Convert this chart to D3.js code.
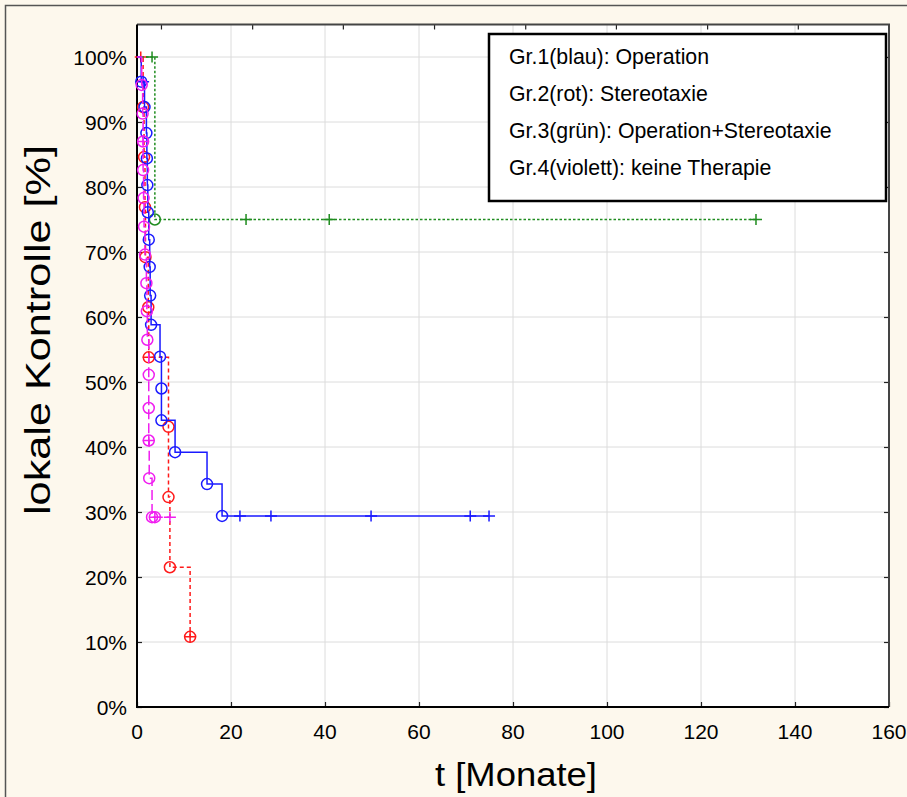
<!DOCTYPE html>
<html>
<head>
<meta charset="utf-8">
<script src="https://cdn.jsdelivr.net/npm/d3@7"></script>
<style>
  body { margin: 0; background: #fdf8ed; }
  svg { display: block; font-family: "Liberation Sans", Arial, sans-serif; }
</style>
</head>
<body>
<svg id="chart" width="907" height="797"></svg>
<script>
// KM curves: time [months], survival [%], mark ('o' event, '+' censored, 'x' both)
const blueTime = [0.9, 1.3, 1.6, 2.0, 2.1, 2.2, 2.3, 2.5, 2.7, 2.8, 3.0, 4.9, 5.2, 5.2, 8.1, 14.9, 18.1, 21.9, 28.5, 49.8, 70.9, 74.9];
const blueSurv = [96.2, 96.2, 92.3, 88.3, 84.4, 80.3, 76.1, 71.9, 67.7, 63.3, 58.8, 53.9, 49.0, 44.1, 39.2, 34.3, 29.4, 29.4, 29.4, 29.4, 29.4, 29.4];
const blueMark = ['o', '+', 'o', 'o', 'o', 'o', 'o', 'o', 'o', 'o', 'o', 'o', 'o', 'o', 'o', 'o', 'o', '+', '+', '+', '+', '+'];

const redTime = [0.8, 1.3, 1.5, 1.7, 1.8, 2.4, 2.5, 6.7, 6.7, 7.0, 11.3];
const redSurv = [100, 92.3, 84.6, 76.9, 69.2, 61.5, 53.8, 43.1, 32.3, 21.5, 10.8];
const redMark = ['+', 'o', 'o', 'o', 'o', 'o', 'x', 'o', 'o', 'o', 'x'];

const greenTime = [3.2, 3.8, 23.2, 40.9, 131.7];
const greenSurv = [100, 75, 75, 75, 75];
const greenMark = ['+', 'o', '+', '+', '+'];

const violetTime = [1.0, 1.2, 1.3, 1.3, 1.4, 1.5, 1.7, 2.0, 2.1, 2.2, 2.5, 2.5, 2.5, 2.6, 3.2, 3.8, 7.0];
const violetSurv = [95.7, 91.3, 87.0, 82.6, 78.3, 73.9, 69.6, 65.2, 60.9, 56.5, 51.1, 46.0, 41.0, 35.2, 29.2, 29.2, 29.2];
const violetMark = ['o', 'o', 'x', 'o', 'o', 'o', 'o', 'o', 'o', 'o', 'o', 'o', 'x', 'o', 'o', 'x', '+'];

const xTicks = [0, 20, 40, 60, 80, 100, 120, 140, 160];
const yTicks = [0, 10, 20, 30, 40, 50, 60, 70, 80, 90, 100];
const topTicks = [5.1, 24.5, 43.8, 63.2, 82.6, 101.9, 121.3, 140.6];
const legendLabels = [
  'Gr.1(blau): Operation',
  'Gr.2(rot): Stereotaxie',
  'Gr.3(grün): Operation+Stereotaxie',
  'Gr.4(violett): keine Therapie'
];

const series = [
  { time: redTime, surv: redSurv, mark: redMark, color: '#ff1a1a', dash: '4,3' },
  { time: greenTime, surv: greenSurv, mark: greenMark, color: '#1f8c1f', dash: '2.5,2' },
  { time: blueTime, surv: blueSurv, mark: blueMark, color: '#1a1aff', dash: null },
  { time: violetTime, surv: violetSurv, mark: violetMark, color: '#f01ef0', dash: '10,4' }
];

function buildChart() {
  const svg = d3.select('#chart');
  const pLeft = 137, pRight = 889, pTop = 24.5, pBottom = 707;

  const x = d3.scaleLinear().domain([0, 160]).range([pLeft, pRight]);
  const y = d3.scaleLinear().domain([0, 105]).range([pBottom, pTop]);

  // outer frame
  svg.append('rect')
    .attr('x', 5.5).attr('y', 5.5)
    .attr('width', 920).attr('height', 820)
    .attr('fill', '#fdf8ed')
    .attr('stroke', '#555')
    .attr('stroke-width', 1.5);

  svg.append('rect')
    .attr('x', pLeft).attr('y', pTop)
    .attr('width', pRight - pLeft).attr('height', pBottom - pTop)
    .attr('fill', '#fff');

  // grid
  const grid = svg.append('g').attr('stroke', '#dcdcdc').attr('stroke-width', 1);
  grid.selectAll('.gx')
    .data(xTicks.slice(1, -1))
    .join('line')
    .attr('class', 'gx')
    .attr('x1', d => x(d)).attr('x2', d => x(d))
    .attr('y1', pTop).attr('y2', pBottom);
  grid.selectAll('.gy')
    .data(yTicks.slice(1))
    .join('line')
    .attr('class', 'gy')
    .attr('x1', pLeft).attr('x2', pRight)
    .attr('y1', d => y(d)).attr('y2', d => y(d));

  // axes with inward ticks
  const fontSize = 21;
  const axisL = svg.append('g')
    .attr('transform', `translate(${pLeft},0)`)
    .call(d3.axisRight(y).tickValues(yTicks).tickSize(5).tickFormat(''));
  const axisB = svg.append('g')
    .attr('transform', `translate(0,${pBottom})`)
    .call(d3.axisTop(x).tickValues(xTicks).tickSize(5).tickFormat(''));
  const axisR = svg.append('g')
    .attr('transform', `translate(${pRight},0)`)
    .call(d3.axisLeft(y).tickValues(yTicks).tickSize(5).tickFormat(''));
  const axisT = svg.append('g')
    .attr('transform', `translate(0,${pTop})`)
    .call(d3.axisBottom(x).tickValues(topTicks).tickSize(5).tickFormat(''));
  [axisL, axisB, axisR, axisT].forEach(a => {
    a.select('.domain').remove();
    a.selectAll('line').attr('stroke', '#222').attr('stroke-width', 1.2);
  });

  svg.append('g')
    .selectAll('text')
    .data(yTicks)
    .join('text')
    .attr('x', pLeft - 10)
    .attr('y', d => y(d))
    .attr('dy', '0.36em')
    .attr('text-anchor', 'end')
    .attr('font-size', fontSize)
    .text(d => d + '%');

  svg.append('g')
    .selectAll('text')
    .data(xTicks)
    .join('text')
    .attr('x', d => x(d))
    .attr('y', pBottom + 32)
    .attr('text-anchor', 'middle')
    .attr('font-size', fontSize)
    .text(d => d);

  // plot frame
  svg.append('path')
    .attr('d', `M${pLeft},${pTop}H${pRight}V${pBottom}`)
    .attr('fill', 'none').attr('stroke', '#444').attr('stroke-width', 2);
  svg.append('path')
    .attr('d', `M${pLeft},${pTop}V${pBottom}H${pRight}`)
    .attr('fill', 'none').attr('stroke', '#000').attr('stroke-width', 2);

  // curves
  const line = d3.line()
    .x(d => x(d.t))
    .y(d => y(d.s))
    .curve(d3.curveStepAfter);

  series.forEach(sr => {
    const pts = sr.time.map((t, i) => ({ t, s: sr.surv[i], m: sr.mark[i] }));
    const g = svg.append('g')
      .attr('fill', 'none')
      .attr('stroke', sr.color)
      .attr('stroke-width', 1.5);

    g.append('path')
      .attr('d', line([{ t: 0, s: 100 }].concat(pts)))
      .attr('stroke-dasharray', sr.dash);

    g.selectAll('circle')
      .data(pts.filter(d => d.m !== '+'))
      .join('circle')
      .attr('cx', d => x(d.t))
      .attr('cy', d => y(d.s))
      .attr('r', 5.5);

    g.selectAll('path.cens')
      .data(pts.filter(d => d.m !== 'o'))
      .join('path')
      .attr('class', 'cens')
      .attr('d', d => `M${x(d.t) - 6},${y(d.s)}h12M${x(d.t)},${y(d.s) - 5.5}v11`);
  });

  // legend
  const legend = svg.append('g');
  legend.append('rect')
    .attr('x', 489).attr('y', 34)
    .attr('width', 397).attr('height', 167)
    .attr('fill', '#fff')
    .attr('stroke', '#000')
    .attr('stroke-width', 2.5);
  legend.selectAll('text')
    .data(legendLabels)
    .join('text')
    .attr('x', 509)
    .attr('y', (d, i) => 64 + i * 37)
    .attr('font-size', 21.3)
    .text(d => d);

  // axis titles
  svg.append('text')
    .attr('x', (pLeft + pRight) / 2 + 3)
    .attr('y', 786)
    .attr('text-anchor', 'middle')
    .attr('font-size', 34)
    .attr('textLength', 162)
    .attr('lengthAdjust', 'spacingAndGlyphs')
    .text('t [Monate]');

  svg.append('text')
    .attr('transform', `translate(50,330) rotate(-90)`)
    .attr('text-anchor', 'middle')
    .attr('font-size', 35)
    .attr('textLength', 370)
    .attr('lengthAdjust', 'spacingAndGlyphs')
    .text('lokale Kontrolle [%]');
}

buildChart();
</script>
</body>
</html>
